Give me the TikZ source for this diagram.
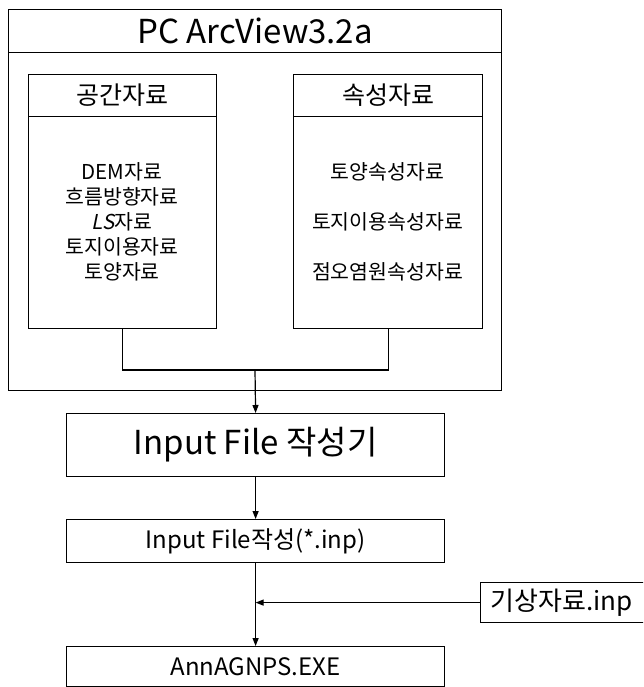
\documentclass[tikz,border=0pt]{standalone}
\usepackage{fontspec}
\setmainfont{Noto Sans CJK KR}
\newfontfamily\slantfont{Noto Sans CJK KR}[FakeSlant=0.2]
\usetikzlibrary{positioning,arrows.meta}

\tikzset{
  box/.style={draw, line width=1.2pt, inner sep=0pt, anchor=north west},
  link/.style={line width=1.2pt},
  flow/.style={link, -{Triangle[length=8pt,width=6pt]}}
}

\begin{document}
\begin{tikzpicture}[x=1pt, y=-1pt]
\useasboundingbox (0,0) rectangle (643,687);
\clip (0,0) rectangle (643,687);
% PC ArcView frame
\node[box, minimum width=493pt, minimum height=381pt] (pc) at (8,9) {};
\node[box, minimum width=493pt, minimum height=43pt, font=\fontsize{33}{35}\selectfont] (pctitle) at (8,9) {PC ArcView3.2a};
% spatial data
\node[box, minimum width=188pt, minimum height=254pt] (spat) at (28,74) {};
\node[box, minimum width=188pt, minimum height=42pt, font=\fontsize{25}{27}\selectfont] (spathead) at (28,74) {공간자료};
\node[align=center, font=\fontsize{20.5}{25}\selectfont] (spatlist) at (122,222) {DEM자료\\흐름방향자료\\{\slantfont LS}자료\\토지이용자료\\토양자료};
% attribute data
\node[box, minimum width=189pt, minimum height=254pt] (attr) at (293,74) {};
\node[box, minimum width=189pt, minimum height=42pt, font=\fontsize{25}{27}\selectfont] (attrhead) at (293,74) {속성자료};
\node[align=center, font=\fontsize{20.5}{50}\selectfont] (attrlist) at (387.5,222) {토양속성자료\\토지이용속성자료\\점오염원속성자료};
% program chain
\node[box, minimum width=378pt, minimum height=63pt, font=\fontsize{33}{35}\selectfont] (maker) at (66,413) {Input File 작성기};
\node[box, minimum width=378pt, minimum height=43pt, font=\fontsize{24}{26}\selectfont] (inpfile) at (66,519) {Input File작성(*.inp)};
\node[box, minimum width=378pt, minimum height=40pt, font=\fontsize{24}{26}\selectfont] (exe) at (66,646) {AnnAGNPS.EXE};
\node[box, minimum height=40pt, text width=165pt, inner xsep=10pt, align=left, font=\fontsize{26}{28}\selectfont] (weather) at (480,582) {기상자료.inp};
% connectors
\coordinate (join) at (255,370);
\draw[link] (spat.south) |- (join) -| (attr.south);
\draw[flow] (join) -- (maker.north);
\draw[flow] (maker) -- (inpfile);
\draw[flow] (inpfile) -- (exe);
\draw[flow] (weather.west) -- (weather.west -| inpfile.south);
\end{tikzpicture}
\end{document}
